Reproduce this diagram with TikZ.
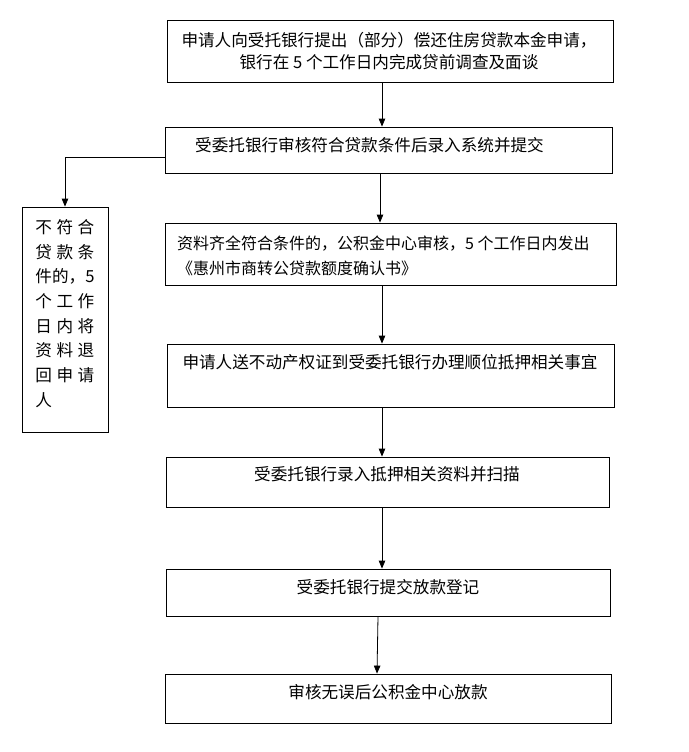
\documentclass[tikz,border=0pt]{standalone}
\usepackage{fontspec}
\setmainfont{Noto Sans CJK SC}
\usetikzlibrary{arrows.meta,positioning}
\newcommand\cgap{\hspace{4.5pt}}

\begin{document}
\begin{tikzpicture}[
  x=1pt,y=-1pt,
  >={Triangle[length=8pt,width=6.5pt]},
  stepbox/.style={draw,line width=0.8pt,minimum width=446pt,inner sep=0pt},
  txt/.style={font=\fontsize{16.6}{22}\selectfont,align=center,inner sep=0pt},
  flow/.style={->,line width=0.8pt}
]
\useasboundingbox (0,0) rectangle (688,752);

% boxes of the main flow
\node[stepbox,minimum height=62pt] (apply) at (390,51) {};
\node[stepbox,minimum width=447pt,minimum height=46pt] (check) at (388.5,150) {};
\node[stepbox,minimum width=451pt,minimum height=62pt] (confirm) at (390.5,254) {};
\node[stepbox,minimum width=447pt,minimum height=63pt] (mortgage) at (390.5,375.5) {};
\node[stepbox,minimum width=443pt,minimum height=50pt] (scan) at (387.5,482) {};
\node[stepbox,minimum width=444pt,minimum height=47pt] (register) at (388,592.5) {};
\node[stepbox,minimum height=49pt] (loan) at (388,698.5) {};
\node[stepbox,minimum width=86pt,minimum height=225pt] (reject) at (65,319.5) {};

% texts
\node[txt] (t-apply) at (389,51) {申请人向受托银行提出（部分）偿还住房贷款本金申请，\\银行在 5 个工作日内完成贷前调查及面谈};
\node[txt,anchor=west] (t-check) at (195,145) {受委托银行审核符合贷款条件后录入系统并提交};
\node[txt,anchor=west,align=left,font=\fontsize{16}{25}\selectfont] (t-confirm) at (177,255.5) {资料齐全符合条件的，公积金中心审核，5 个工作日内发出\\《惠州市商转公贷款额度确认书》};
\node[txt] (t-mortgage) at (390,362) {申请人送不动产权证到受委托银行办理顺位抵押相关事宜};
\node[txt] (t-scan) at (387,474) {受委托银行录入抵押相关资料并扫描};
\node[txt] (t-register) at (388,587) {受委托银行提交放款登记};
\node[txt] (t-loan) at (388,692) {审核无误后公积金中心放款};
\node[txt,align=left,font=\fontsize{16.6}{24.7}\selectfont] (t-reject) at (65,313.5)
  {不\cgap 符\cgap 合\\贷\cgap 款\cgap 条\\件的，5\\个\cgap 工\cgap 作\\日\cgap 内\cgap 将\\资\cgap 料\cgap 退\\回\cgap 申\cgap 请\\人};

% connectors
\coordinate (ax) at (382,0);
\draw[flow] (apply.south -| ax) -- (check.north -| ax);
\draw[flow] ([xshift=-2pt]check.south -| ax) -- ([xshift=-2pt]confirm.north -| ax);
\draw[flow] (confirm.south -| ax) -- (mortgage.north -| ax);
\draw[flow] (mortgage.south -| ax) -- (scan.north -| ax);
\draw[flow] (scan.south -| ax) -- (register.north -| ax);
\draw[flow] ([xshift=-4pt]register.south -| ax) -- ([xshift=-5pt]loan.north -| ax);
\draw[flow] ([yshift=-7pt]check.west) -| (reject.north);
\end{tikzpicture}
\end{document}
